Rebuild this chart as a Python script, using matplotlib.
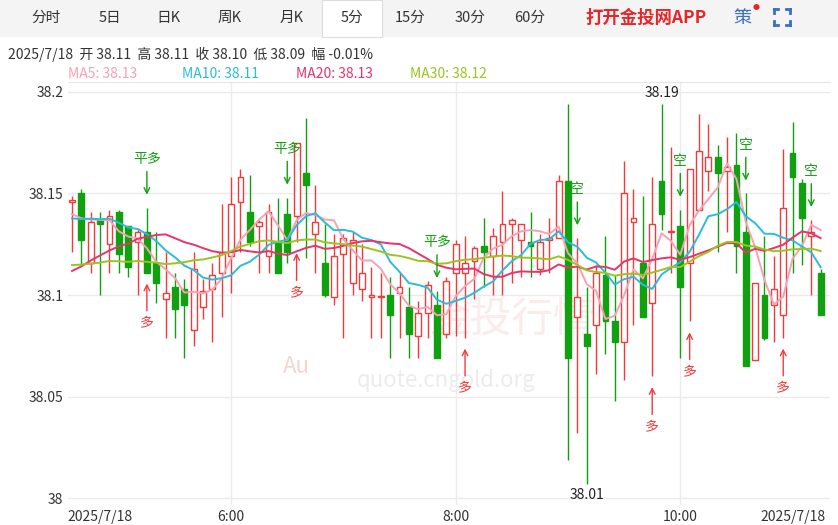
import numpy as np
import pandas as pd
import matplotlib
matplotlib.use('Agg')
import matplotlib.pyplot as plt
from matplotlib.patches import Rectangle

plt.rcParams['font.family'] = ['Noto Sans CJK SC', 'DejaVu Sans']

# closes before the visible window (only used to warm up the moving averages)
prior_closes = [38.118, 38.122, 38.120, 38.115, 38.125, 38.121, 38.119, 38.124, 38.118, 38.122,
                38.082, 38.078, 38.085, 38.090, 38.080, 38.086, 38.084, 38.092, 38.088, 38.095,
                38.130, 38.134, 38.138, 38.136, 38.140, 38.137, 38.139, 38.136, 38.140]

# 5-minute candles
opens = [38.146, 38.150, 38.116, 38.137, 38.125, 38.141, 38.134, 38.126, 38.131, 38.116,
         38.098, 38.104, 38.103, 38.083, 38.094, 38.103, 38.111, 38.119, 38.146, 38.141,
         38.134, 38.119, 38.126, 38.140, 38.139, 38.160, 38.130, 38.116, 38.099, 38.120,
         38.106, 38.103, 38.099, 38.099, 38.100, 38.101, 38.094, 38.080, 38.091, 38.095,
         38.081, 38.111, 38.111, 38.117, 38.124, 38.119, 38.126, 38.135, 38.127, 38.126,
         38.113, 38.127, 38.128, 38.156, 38.089, 38.081, 38.085, 38.110, 38.087, 38.077,
         38.136, 38.116, 38.096, 38.156, 38.131, 38.134, 38.116, 38.142, 38.161, 38.168,
         38.161, 38.164, 38.131, 38.068, 38.100, 38.095, 38.090, 38.170, 38.155, 38.129,
         38.111]
closes = [38.147, 38.127, 38.136, 38.135, 38.139, 38.120, 38.114, 38.131, 38.111, 38.106,
          38.101, 38.093, 38.095, 38.113, 38.102, 38.110, 38.121, 38.145, 38.158, 38.126,
          38.136, 38.141, 38.111, 38.121, 38.175, 38.154, 38.136, 38.100, 38.119, 38.128,
          38.127, 38.111, 38.100, 38.099, 38.090, 38.104, 38.081, 38.091, 38.105, 38.069,
          38.107, 38.125, 38.116, 38.123, 38.121, 38.129, 38.135, 38.137, 38.135, 38.124,
          38.126, 38.128, 38.156, 38.069, 38.099, 38.075, 38.111, 38.087, 38.077, 38.150,
          38.138, 38.089, 38.135, 38.140, 38.131, 38.104, 38.162, 38.171, 38.168, 38.160,
          38.163, 38.124, 38.065, 38.106, 38.079, 38.103, 38.143, 38.158, 38.138, 38.131,
          38.090]
highs = [38.149, 38.152, 38.141, 38.141, 38.142, 38.142, 38.134, 38.133, 38.143, 38.131,
         38.121, 38.111, 38.108, 38.121, 38.108, 38.116, 38.145, 38.158, 38.162, 38.159,
         38.137, 38.145, 38.148, 38.148, 38.175, 38.187, 38.154, 38.135, 38.130, 38.130,
         38.131, 38.125, 38.114, 38.111, 38.109, 38.111, 38.104, 38.097, 38.107, 38.102,
         38.109, 38.127, 38.129, 38.124, 38.138, 38.133, 38.151, 38.138, 38.135, 38.141,
         38.130, 38.138, 38.159, 38.194, 38.128, 38.104, 38.115, 38.129, 38.110, 38.166,
         38.152, 38.149, 38.158, 38.194, 38.173, 38.142, 38.162, 38.189, 38.184, 38.174,
         38.178, 38.180, 38.150, 38.106, 38.129, 38.119, 38.172, 38.185, 38.157, 38.137,
         38.113]
lows = [38.121, 38.115, 38.111, 38.100, 38.111, 38.111, 38.109, 38.100, 38.111, 38.096,
        38.079, 38.079, 38.069, 38.075, 38.088, 38.077, 38.089, 38.101, 38.121, 38.124,
        38.111, 38.111, 38.111, 38.116, 38.126, 38.118, 38.111, 38.099, 38.095, 38.079,
        38.100, 38.097, 38.079, 38.079, 38.069, 38.079, 38.069, 38.069, 38.079, 38.069,
        38.079, 38.080, 38.079, 38.098, 38.104, 38.100, 38.100, 38.106, 38.109, 38.109,
        38.110, 38.111, 38.128, 38.019, 38.032, 38.007, 38.061, 38.071, 38.048, 38.058,
        38.085, 38.089, 38.060, 38.132, 38.111, 38.069, 38.087, 38.142, 38.151, 38.121,
        38.131, 38.111, 38.065, 38.068, 38.078, 38.077, 38.079, 38.111, 38.115, 38.100,
        38.090]

# trade signals: (candle index, label, above/below)
signals = [(8, '平多', 'up'), (8, '多', 'down'), (23, '平多', 'up'), (24, '多', 'down'),
           (39, '平多', 'up'), (42, '多', 'down'), (54, '空', 'up'), (62, '多', 'down'),
           (65, '空', 'up'), (66, '多', 'down'), (72, '空', 'up'), (76, '多', 'down'),
           (79, '空', 'up')]

tabs = ['分时', '5日', '日K', '周K', '月K', '5分', '15分', '30分', '60分']
y_ticks = [38.0, 38.05, 38.1, 38.15, 38.2]
y_tick_labels = ['38', '38.05', '38.1', '38.15', '38.2']
x_tick_idx = [3, 17, 41, 65, 77]
x_tick_labels = ['2025/7/18', '6:00', '8:00', '10:00', '2025/7/18']

RED = '#f23a3a'
GREEN = '#10a010'
ma_colors = {5: '#f7a1b5', 10: '#2bbcd9', 20: '#e8336b', 30: '#9cc31e'}

W, H = 838, 525
fig = plt.figure(figsize=(W / 100, H / 100), dpi=100)

def fx(x): return x / W
def fy(y): return 1 - y / H

# header band
fig.patches.append(Rectangle((0, fy(36)), 1, 36 / H, transform=fig.transFigure,
                             color='#f4f4f4', zorder=0))
tab_x = [46, 110, 168, 230, 292, 352, 410, 470, 530]
for t, x in zip(tabs, tab_x):
    if t == '5分':
        fig.patches.append(Rectangle((fx(x - 30), fy(37)), 60 / W, 37 / H,
                                     transform=fig.transFigure, facecolor='white',
                                     edgecolor='#dddddd', lw=0.8, zorder=1))
    fig.text(fx(x), fy(18), t, ha='center', va='center', fontsize=10.5,
             color='#333333', zorder=2)
fig.text(fx(646), fy(18), '打开金投网APP', ha='center', va='center', fontsize=12.5,
         color='#e8262a', weight='bold')
fig.text(fx(742), fy(18), '策', ha='center', va='center', fontsize=13, color='#3a6fc4')
fig.text(fx(756), fy(8), '●', ha='center', va='center', fontsize=5, color='#e8262a')
# fullscreen icon: four corner brackets
cx, cy, r, k = 782, 17, 8, 4
for sx in (-1, 1):
    for sy in (-1, 1):
        x0, y0 = cx + sx * r, cy + sy * r
        fig.add_artist(plt.Line2D([fx(x0), fx(x0 - sx * k)], [fy(y0), fy(y0)],
                                  color='#3a6fc4', lw=2, transform=fig.transFigure))
        fig.add_artist(plt.Line2D([fx(x0), fx(x0)], [fy(y0), fy(y0 - sy * k)],
                                  color='#3a6fc4', lw=2, transform=fig.transFigure))

fig.text(fx(8), fy(54), '2025/7/18  开 38.11  高 38.11  收 38.10  低 38.09  幅 -0.01%',
         ha='left', va='center', fontsize=10, color='#333333')
for txt, x, c in [('MA5: 38.13', 68, ma_colors[5]), ('MA10: 38.11', 182, ma_colors[10]),
                  ('MA20: 38.13', 296, ma_colors[20]), ('MA30: 38.12', 410, ma_colors[30])]:
    fig.text(fx(x), fy(74), txt, ha='left', va='center', fontsize=10, color=c)

# chart axes
ax = fig.add_axes([fx(68), fy(505), (830 - 68) / W, (505 - 82) / H])
n = len(opens)
ax.set_xlim(-0.43, 81.0)
ax.set_ylim(37.9966, 38.2049)
for s in ax.spines.values():
    s.set_visible(False)
ax.spines['top'].set_visible(True)
ax.spines['top'].set_color('#e6e6e6')
ax.set_yticks(y_ticks)
ax.set_yticklabels(y_tick_labels)
ax.set_xticks(x_tick_idx)
ax.set_xticklabels(x_tick_labels)
ax.tick_params(length=0, labelsize=10, colors='#333333')
for v in y_ticks:
    ax.axhline(v, color='#ebebeb', lw=1, zorder=0)
for i in x_tick_idx[1:4]:
    ax.axvline(i, color='#ebebeb', lw=1, zorder=0)

# watermark
ax.text(47, 38.087, '金投行情', fontsize=30, color='#f6e0dc', alpha=0.6,
        ha='center', va='center', zorder=0)
ax.text(40, 38.058, 'quote.cngold.org', fontsize=16, color='#ececec',
        ha='center', va='center', zorder=0)
ax.text(24, 38.065, 'Au', fontsize=16, color='#f3d6d2', ha='center', va='center', zorder=0)

bw = 0.62
for i in range(n):
    o, c, h, l = opens[i], closes[i], highs[i], lows[i]
    up = c >= o
    col = RED if up else GREEN
    lo, hi = min(o, c), max(o, c)
    ax.vlines(i, l, lo, color=col, lw=1, zorder=2)
    ax.vlines(i, hi, h, color=col, lw=1, zorder=2)
    hgt = max(hi - lo, 0.0004)
    ax.add_patch(Rectangle((i - bw / 2, lo), bw, hgt, facecolor='white' if up else col,
                           edgecolor=col, lw=1, zorder=3))

all_close = pd.Series(prior_closes + closes)
m = len(prior_closes)
for p, col in ma_colors.items():
    ma = all_close.rolling(p).mean().iloc[m:]
    ax.plot(range(n), ma.values, color=col, lw=1.4, zorder=4)

for i, txt, side in signals:
    if side == 'up':
        base = highs[i]
        ax.annotate(txt, xy=(i, base + 0.005), xytext=(i, base + 0.024), ha='center',
                    va='center', fontsize=10, color=GREEN, zorder=5,
                    arrowprops=dict(arrowstyle='->', color=GREEN, lw=1))
    else:
        base = lows[i]
        ax.annotate(txt, xy=(i, base - 0.004), xytext=(i, base - 0.025), ha='center',
                    va='center', fontsize=10, color=RED, zorder=5,
                    arrowprops=dict(arrowstyle='->', color=RED, lw=1))

hi_i = int(np.argmax(highs))
lo_i = int(np.argmin(lows))
ax.text(hi_i + 10, max(highs) + 0.002, '%.2f' % max(highs), ha='center', va='bottom',
        fontsize=10, color='#222222')
ax.text(lo_i, min(lows) - 0.002, '%.2f' % min(lows), ha='center', va='top',
        fontsize=10, color='#222222')

fig.savefig('out.png', dpi=100)
